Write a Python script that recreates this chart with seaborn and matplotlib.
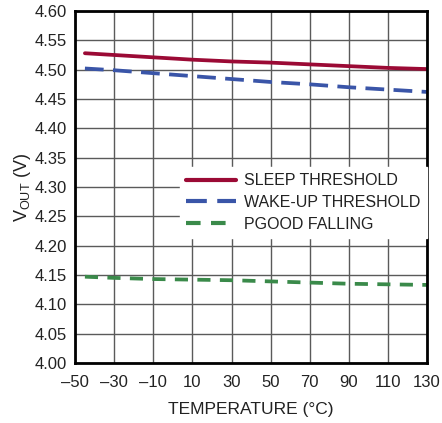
import seaborn as sns
import matplotlib.pyplot as plt
import pandas as pd

# data
temp = [-45, -30, -10, 10, 30, 50, 70, 90, 110, 130]
sleep = [4.528, 4.525, 4.521, 4.517, 4.514, 4.512, 4.509, 4.506, 4.503, 4.501]
wakeup = [4.502, 4.499, 4.494, 4.489, 4.484, 4.479, 4.475, 4.470, 4.466, 4.462]
pgood = [4.147, 4.145, 4.143, 4.142, 4.141, 4.139, 4.137, 4.135, 4.134, 4.133]

labels = ["SLEEP THRESHOLD", "WAKE-UP THRESHOLD", "PGOOD FALLING"]
colors = ["#9b0a35", "#3a55a8", "#3a8a4a"]

df = pd.DataFrame({"temp": temp * 3,
                   "vout": sleep + wakeup + pgood,
                   "series": sum([[l] * len(temp) for l in labels], [])})

sns.set_style("white")
plt.rcParams["font.family"] = ["Liberation Sans", "DejaVu Sans"]
plt.rcParams["mathtext.fontset"] = "custom"
plt.rcParams["mathtext.rm"] = "Liberation Sans"

fig = plt.figure(figsize=(4.42, 4.23), dpi=100)
ax = fig.add_axes([0.170, 0.142, 0.796, 0.832])

sns.lineplot(data=df, x="temp", y="vout", hue="series", style="series",
             palette=colors, dashes=[(None, None), (5, 2.5), (3.5, 2.5)],
             linewidth=2.7, ax=ax)

ax.set_xlim(-50, 130)
ax.set_ylim(4.0, 4.6)
ax.set_xticks(range(-50, 131, 20))
ax.set_xticklabels([str(t).replace("-", "\u2013") for t in range(-50, 131, 20)])
ax.set_yticks([4.0 + 0.05 * i for i in range(13)])
ax.set_yticklabels([f"{4.0 + 0.05 * i:.2f}" for i in range(13)])
ax.tick_params(labelsize=12, length=0, colors="#222222")
ax.tick_params(axis="x", pad=9)
ax.tick_params(axis="y", pad=6)
ax.grid(True, color="#5a5a5a", linewidth=1)
for s in ax.spines.values():
    s.set_color("black")
    s.set_linewidth(2)

ax.set_xlabel("TEMPERATURE (°C)", fontsize=12.5, labelpad=8, color="#222222")
ax.set_ylabel(r"V$_{\mathregular{OUT}}$ (V)", fontsize=13, labelpad=1, color="#222222")

leg = ax.legend(loc="upper left", bbox_to_anchor=(0.298, 0.557), frameon=True,
                facecolor="white", edgecolor="white", framealpha=1,
                fontsize=11.5, handlelength=3.1, labelspacing=0.42,
                borderpad=0.4, handletextpad=0.5, borderaxespad=0)
for t in leg.get_texts():
    t.set_color("#222222")
for h in leg.get_lines():
    h.set_linewidth(3)
leg.get_frame().set_boxstyle("square", pad=0)

fig.savefig("out.png", dpi=100)
